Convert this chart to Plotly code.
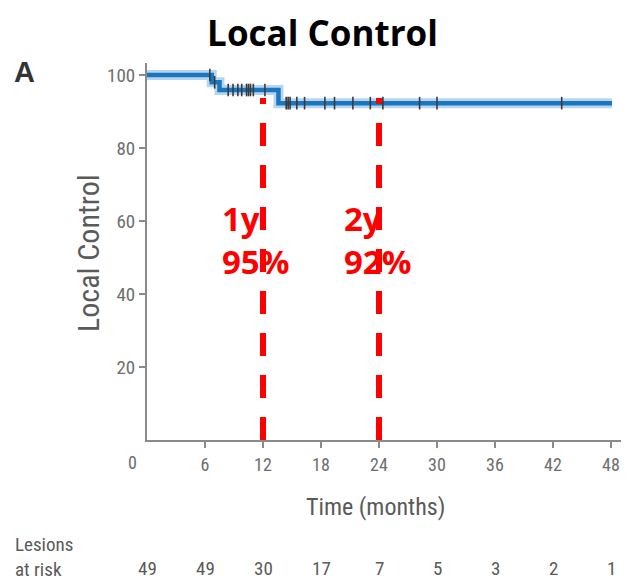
import plotly.graph_objects as go
import numpy as np

# ---- data ----
step_times = [0, 6.7, 7.5, 13.6, 48.1]
step_surv = [100, 98.0, 95.9, 92.3, 92.3]
censor_times = [6.5, 7.0, 8.4, 8.9, 9.4, 9.8, 10.3, 10.5, 10.7, 11.0, 12.2,
                14.4, 14.6, 14.8, 15.5, 16.3, 18.4, 19.4, 21.3, 23.1, 24.4,
                28.2, 30.0, 42.9]
x_ticks = [0, 6, 12, 18, 24, 30, 36, 42, 48]
y_ticks = [20, 40, 60, 80, 100]
at_risk = [49, 49, 30, 17, 7, 5, 3, 2, 1]
milestone_x = [12, 24]
milestone_lbl = ["1y", "2y"]
milestone_val = ["95%", "92%"]

def surv_at(t):
    idx = np.searchsorted(step_times, t, side="right") - 1
    return step_surv[max(idx, 0)]

censor_y = [surv_at(t) for t in censor_times]

GREY = "#5a5a5a"
TICKGREY = "#6e6e6e"
NARROW = "Liberation Sans Narrow, Roboto Condensed, DejaVu Sans Condensed, Arial Narrow, sans-serif"

fig = go.Figure()
# glow
fig.add_trace(go.Scatter(x=step_times, y=step_surv, mode="lines", line_shape="hv",
                         line=dict(color="rgba(50,135,210,0.35)", width=10),
                         hoverinfo="skip", showlegend=False))
fig.add_trace(go.Scatter(x=step_times, y=step_surv, mode="lines", line_shape="hv",
                         line=dict(color="#1b76c0", width=4.5), showlegend=False))
fig.add_trace(go.Scatter(x=censor_times, y=censor_y, mode="markers",
                         marker=dict(symbol="line-ns", size=9,
                                     line=dict(color="#3a3a3a", width=1.6)),
                         showlegend=False))

for xv in milestone_x:
    fig.add_shape(type="line", x0=xv, x1=xv, y0=0, y1=93.7, xref="x", yref="y",
                  line=dict(color="red", width=6, dash="23px,19px"))

offsets = [-4.45, -3.8]
for xv, lb, vl, off in zip(milestone_x, milestone_lbl, milestone_val, offsets):
    fig.add_annotation(x=xv + off, y=54.7, xref="x", yref="y", text=f"{lb}<br>{vl}",
                       showarrow=False, xanchor="left", yanchor="middle", align="left",
                       font=dict(family="Open Sans", size=33, color="red", weight="bold"))

# x tick label "0" (offset to the left of the axis in the original)
fig.add_annotation(x=-0.0306, y=-0.061, xref="paper", yref="paper", text=str(x_ticks[0]),
                   showarrow=False, xanchor="center", yanchor="middle",
                   font=dict(family=NARROW, size=18, color=TICKGREY))

# at risk row
for xv, n in zip(x_ticks, at_risk):
    fig.add_annotation(x=xv, y=-0.342, xref="x", yref="paper", text=str(n),
                       showarrow=False, xanchor="center", yanchor="middle",
                       font=dict(family=NARROW, size=19, color=GREY))
fig.add_annotation(x=-0.2735, y=-0.310, xref="paper", yref="paper", text="Lesions<br>at risk",
                   showarrow=False, xanchor="left", yanchor="middle", align="left",
                   font=dict(family=NARROW, size=19, color=GREY))

# axis titles
fig.add_annotation(x=23.6, y=-0.1777, xref="x", yref="paper", text="Time (months)",
                   showarrow=False, xanchor="center", yanchor="middle",
                   font=dict(family=NARROW, size=24, color=GREY))
fig.add_annotation(x=-0.1204, y=0.496, xref="paper", yref="paper", text="Local Control",
                   textangle=-90, showarrow=False, xanchor="center", yanchor="middle",
                   font=dict(family=NARROW, size=30, color=GREY))
fig.add_annotation(x=-0.251, y=0.976, xref="paper", yref="paper", text="A",
                   showarrow=False, xanchor="center", yanchor="middle",
                   font=dict(family="Liberation Sans", size=29, color="#333333", weight="bold"))

fig.update_layout(
    width=629, height=583,
    margin=dict(l=139, r=0, t=55, b=151),
    paper_bgcolor="white", plot_bgcolor="white",
    title=dict(text="<b>Local Control</b>", x=0.5, xanchor="center", y=0.956, yanchor="middle",
               font=dict(family="Open Sans", size=35, color="black")),
    xaxis=dict(range=[0, 50.69], tickvals=x_ticks[1:], ticktext=[str(v) for v in x_ticks[1:]],
               showgrid=False, zeroline=False, showline=True, linecolor="#8a8a8a", linewidth=2,
               ticks="outside", ticklen=6, tickcolor="#8a8a8a", tickwidth=1.5,
               tickfont=dict(family=NARROW, size=18, color=TICKGREY), ticklabelstandoff=1),
    yaxis=dict(range=[0, 103.3], tickvals=y_ticks, showgrid=False, zeroline=False,
               showline=True, linecolor="#8a8a8a", linewidth=2,
               ticks="outside", ticklen=6, tickcolor="#8a8a8a", tickwidth=1.5,
               tickfont=dict(family=NARROW, size=19, color=TICKGREY), ticklabelstandoff=0),
)

fig.write_html("out.html")
